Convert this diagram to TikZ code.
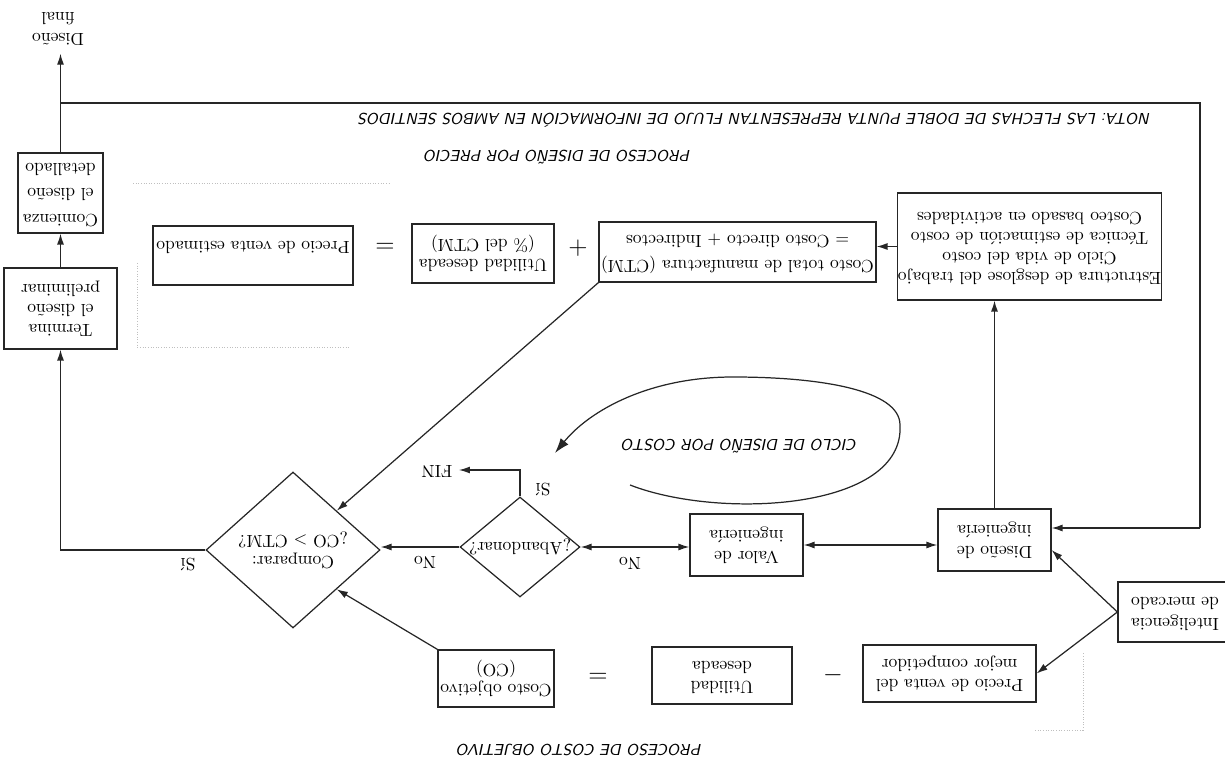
\documentclass[tikz,border=0pt]{standalone}
\usepackage{fontspec}
\usepackage{graphicx}
\usetikzlibrary{shapes.geometric,arrows.meta}
\newcommand{\flip}[1]{\rotatebox[origin=c]{180}{\begin{tabular}{@{}c@{}}#1\end{tabular}}}
\newcommand{\flipl}[1]{\rotatebox[origin=c]{180}{\begin{tabular}{@{}l@{}}#1\end{tabular}}}
\begin{document}
\begin{tikzpicture}[x=0.02cm,y=-0.02cm,line width=0.7pt,
  every node/.style={font=\fontsize{10}{11.5}\selectfont},
  box/.style={draw=black!85,rectangle,inner sep=0pt,fill=white},
  dia/.style={draw=black!85,diamond,inner sep=0pt},
  arr/.style={draw=black!85,-{Latex[length=2.2mm,width=1.4mm]}},
  dbl/.style={draw=black!85,{Latex[length=2.2mm,width=1.4mm]}-{Latex[length=2.2mm,width=1.4mm]}},
  lab/.style={font=\sffamily\itshape\small},
  sym/.style={font=\Large},
  faint/.style={draw=black!25,line width=0.5pt,densely dotted}]
\useasboundingbox (0,0) rectangle (1225,770);
\clip (0,0) rectangle (1225,770);

% faint dotted region outlines
\draw[faint] (133,183) -- (390,183);
\draw[faint] (137,263) -- (137,347) -- (350,347);
\draw[faint] (1035,730) -- (1083,730) -- (1083,652);

% nodes
\node (final) at (58,27) {\flip{Diseño\\final}};
\node[box,minimum width=1.70cm,minimum height=1.60cm] (com) at (60.5,193) {\flip{Comienza\\[3pt]el diseño\\[3pt]detallado}};
\node[box,minimum width=2.26cm,minimum height=1.62cm] (ter) at (60.5,308.5) {\flip{Termina\\el diseño\\preliminar}};
\node[box,minimum width=4.00cm,minimum height=1.18cm] (pve) at (253,255.5) {\flip{\\Precio de venta estimado}};
\node[box,minimum width=2.84cm,minimum height=1.18cm] (ud1) at (483,253.5) {\flip{Utilidad deseada\\(\% del CTM)}};
\node[box,minimum width=5.54cm,minimum height=1.20cm] (ctm) at (737.5,252) {\flip{Costo total de manufactura (CTM)\\[3pt]= Costo directo + Indirectos}};
\node[box,minimum width=5.26cm,minimum height=2.14cm] (est) at (1029.5,246.5) {\flip{Estructura de desglose del trabajo\\Ciclo de vida del costo\\Técnica de estimación de costo\\Costeo basado en actividades}};
\node[dia,minimum width=3.48cm,minimum height=3.12cm] (cmp) at (293,550) {\flip{\makebox[0pt]{Comparar:}\\\makebox[0pt]{¿CO > CTM?}}};
\node[dia,minimum width=2.40cm,minimum height=2.00cm] (aba) at (520,547) {\flip{\makebox[0pt]{¿Abandonar?}}};
\node[box,minimum width=2.26cm,minimum height=1.24cm] (val) at (746.5,545) {\flip{Valor de\\ingeniería}};
\node[box,minimum width=2.26cm,minimum height=1.24cm] (die) at (994.5,540) {\flip{Diseño de\\ingeniería}};
\node[box,minimum width=2.32cm,minimum height=1.14cm] (co) at (496,678.5) {\flip{Costo objetivo\\(CO)}};
\node[box,minimum width=2.80cm,minimum height=1.14cm] (ud2) at (722,675.5) {\flip{Utilidad\\deseada}};
\node[box,minimum width=3.46cm,minimum height=1.14cm] (pc) at (949.5,673.5) {\flip{Precio de venta del\\mejor competidor}};
\node[box,minimum width=2.28cm,minimum height=1.20cm] (int) at (1175,612) {\flipl{Inteligencia\\de mercado}};

\node (fin) at (437,470) {\flip{FIN}};

% operators
\node[sym] (eq1) at (385,248) {$=$};
\node[sym] (pl) at (578,248) {$+$};
\node[sym] (eq2) at (598,678) {$=$};
\node[sym] (mi) at (833,675) {$-$};

% captions
\node[lab] (nota) at (755,117) {\flip{NOTA: LAS FLECHAS DE DOBLE PUNTA REPRESENTAN FLUJO DE INFORMACIÓN EN AMBOS SENTIDOS}};
\node[lab] (pdp) at (558,154) {\flip{PROCESO DE DISEÑO POR PRECIO}};
\node[lab] (cdc) at (740,443) {\flip{CICLO DE DISEÑO POR COSTO}};
\node[lab] (pco) at (580,748) {\flip{PROCESO DE COSTO OBJETIVO}};

% branch labels
\node (si1) at (188,563) {\flip{Sí}};
\node (no1) at (425,561) {\flip{No}};
\node (no2) at (630,562) {\flip{No}};
\node (si2) at (543,488) {\flip{Sí}};

% connectors
\coordinate (tl) at (60.5,103);
\coordinate (tr) at (1200,103);
\coordinate (br) at (1200,528);
\draw[arr] (com.north) -- (com.north |- final.south);
\draw[draw=black!85] (tl) -- (tr) -- (br);
\draw[arr] (br) -- (br -| die.east);
\draw[arr] (ter.north) -- (com.south);
\draw[arr] (cmp.west) -- (cmp.west -| ter.south) -- (ter.south);
\draw[arr] (ctm.south west) -- (cmp.north east);
\draw[arr] (co.north west) -- (cmp.south east);
\draw[arr] (aba.west) -- (aba.west -| cmp.east);
\draw[dbl] (aba.east) -- (aba.east -| val.west);
\draw[dbl] (val.east) -- (val.east -| die.west);
\draw[arr] (aba.north) -- (aba.north |- fin.east) -- (fin.east);
\draw[arr] (die.north) -- (die.north |- est.south);
\draw[arr] (est.west) -- (est.west -| ctm.east);
\draw[arr] (int.west) -- (die.-10);
\draw[arr] (int.west) -- (pc.east);

% design-to-cost loop
\coordinate (c0) at (630,485);
\coordinate (c1) at (900,425);
\coordinate (c2) at (733,377);
\coordinate (c3) at (555,453);
\draw[draw=black!85,-{Latex[length=3mm,width=2mm]}] (c0) .. controls (720,520) and (905,510) .. (c1)
  .. controls (900,390) and (820,377) .. (c2)
  .. controls (650,377) and (590,410) .. (c3);
\end{tikzpicture}
\end{document}
